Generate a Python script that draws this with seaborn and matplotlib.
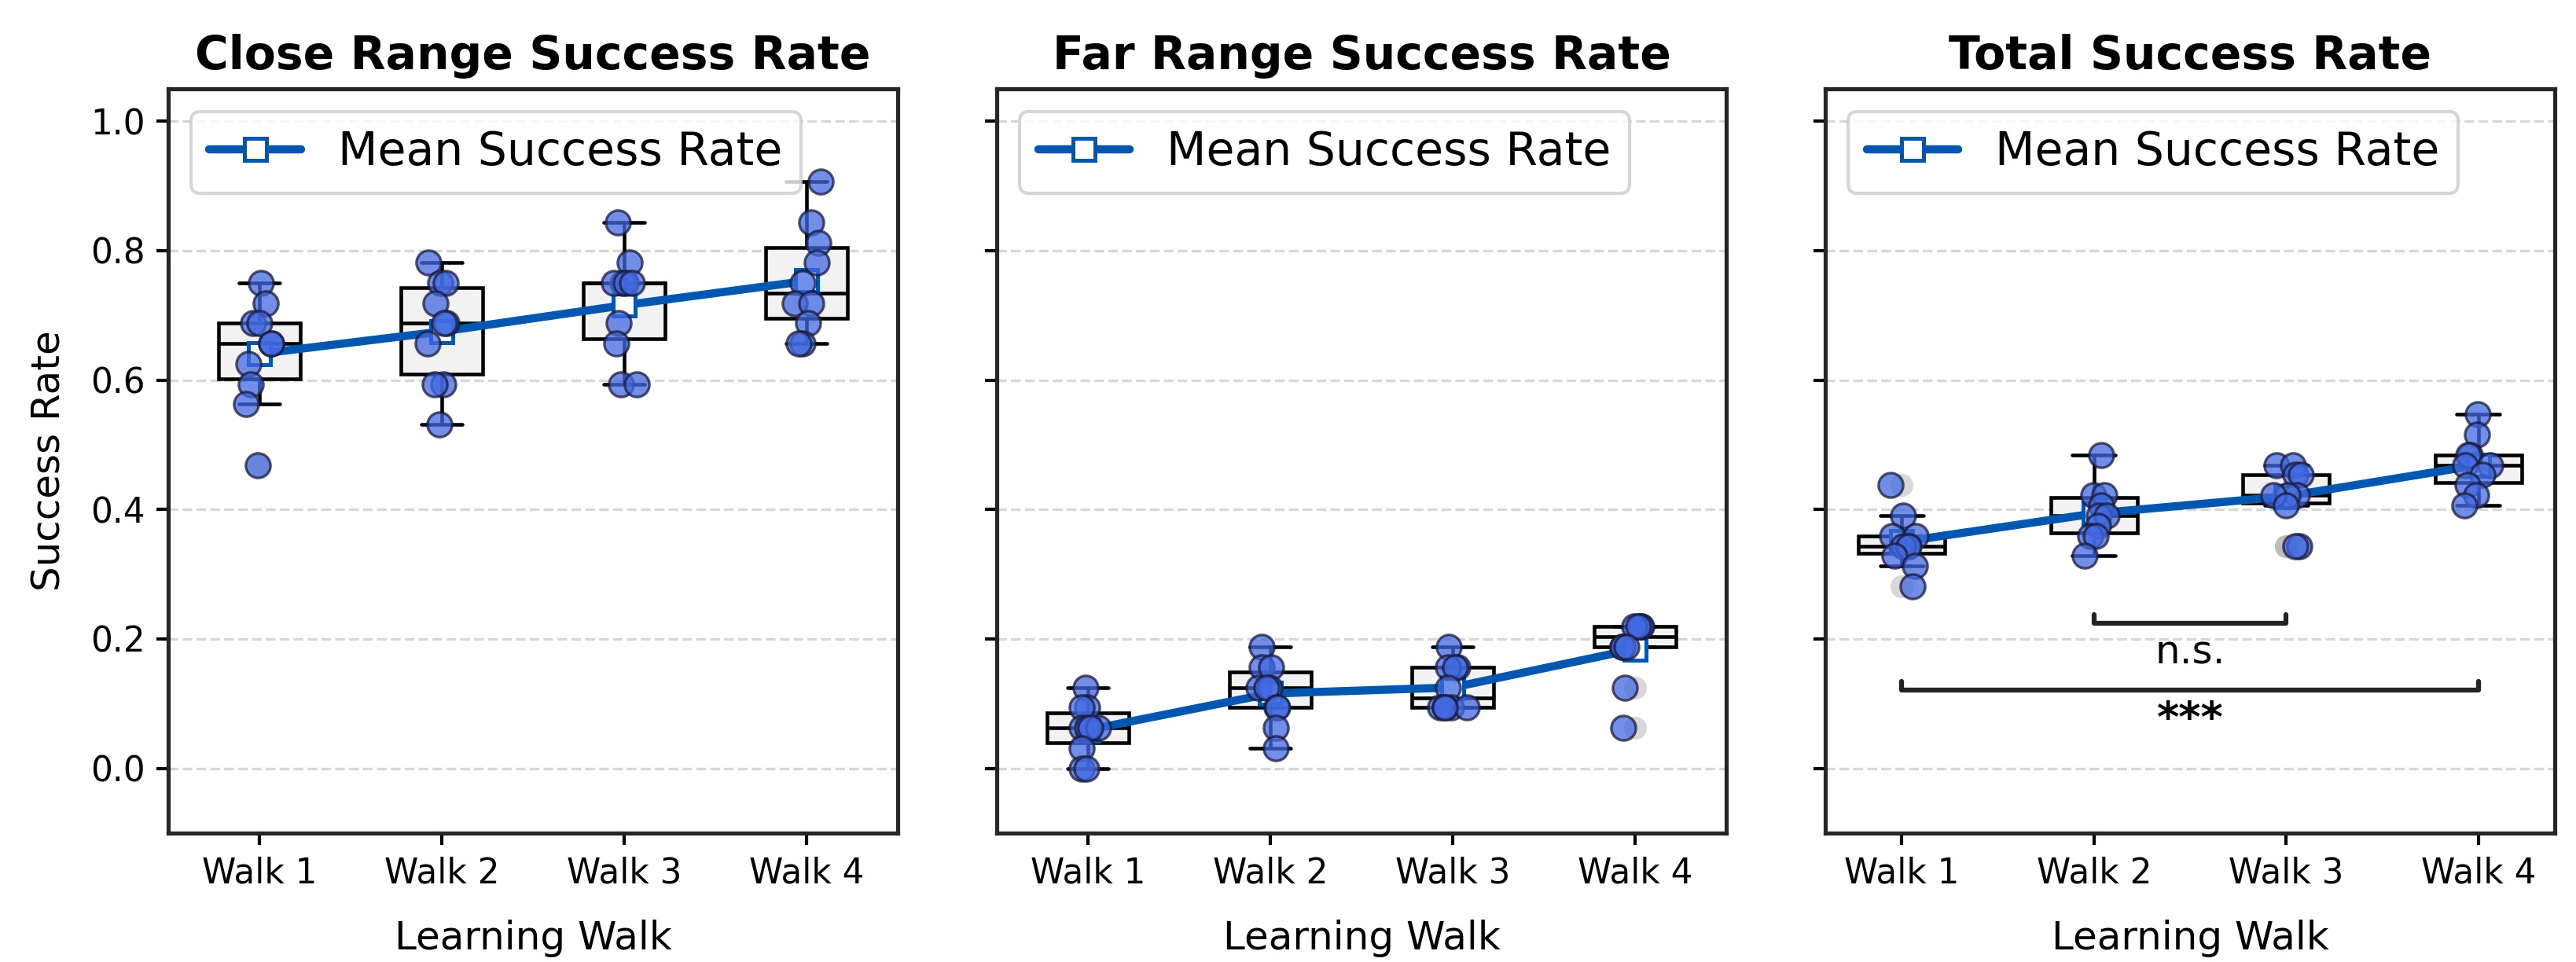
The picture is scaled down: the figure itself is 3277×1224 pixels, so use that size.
import numpy as np
import pandas as pd
import matplotlib
matplotlib.use("Agg")
import matplotlib.pyplot as plt
import seaborn as sns

# categories
walks = ["Walk 1", "Walk 2", "Walk 3", "Walk 4"]
panel_titles = ["Close Range Success Rate", "Far Range Success Rate", "Total Success Rate"]

# close range success rate per participant
close_w1 = [0.75, 0.71875, 0.6875, 0.6875, 0.65625, 0.65625, 0.625, 0.59375, 0.5625, 0.46875]
close_w2 = [0.78125, 0.75, 0.75, 0.71875, 0.6875, 0.6875, 0.65625, 0.59375, 0.59375, 0.53125]
close_w3 = [0.84375, 0.78125, 0.75, 0.75, 0.75, 0.75, 0.6875, 0.65625, 0.59375, 0.59375]
close_w4 = [0.90625, 0.84375, 0.8125, 0.78125, 0.75, 0.71875, 0.71875, 0.6875, 0.65625, 0.65625]

# far range
far_w1 = [0.125, 0.09375, 0.09375, 0.0625, 0.0625, 0.0625, 0.0625, 0.03125, 0.0, 0.0]
far_w2 = [0.1875, 0.15625, 0.15625, 0.125, 0.125, 0.125, 0.09375, 0.09375, 0.0625, 0.03125]
far_w3 = [0.1875, 0.15625, 0.15625, 0.15625, 0.125, 0.09375, 0.09375, 0.09375, 0.09375, 0.09375]
far_w4 = [0.21875, 0.21875, 0.21875, 0.21875, 0.21875, 0.1875, 0.1875, 0.1875, 0.125, 0.0625]

# total
total_w1 = [0.4375, 0.390625, 0.359375, 0.359375, 0.34375, 0.34375, 0.34375, 0.328125, 0.3125, 0.28125]
total_w2 = [0.484375, 0.421875, 0.421875, 0.40625, 0.390625, 0.390625, 0.375, 0.359375, 0.359375, 0.328125]
total_w3 = [0.46875, 0.46875, 0.453125, 0.453125, 0.421875, 0.421875, 0.421875, 0.40625, 0.34375, 0.34375]
total_w4 = [0.546875, 0.515625, 0.484375, 0.484375, 0.46875, 0.46875, 0.453125, 0.4375, 0.421875, 0.40625]

# significance annotations on the total panel
sig_pairs = [("Walk 2", "Walk 3"), ("Walk 1", "Walk 4")]
sig_labels = ["n.s.", "***"]
sig_heights = [0.224, 0.121]
sig_text_top = [0.208, 0.106]


def long_frame(groups):
    rows = []
    for walk, vals in zip(walks, groups):
        for v in vals:
            rows.append({"Walk": walk, "Rate": v})
    return pd.DataFrame(rows)


frames = [
    long_frame([close_w1, close_w2, close_w3, close_w4]),
    long_frame([far_w1, far_w2, far_w3, far_w4]),
    long_frame([total_w1, total_w2, total_w3, total_w4]),
]

sns.set_theme(style="ticks")
plt.rcParams["font.family"] = ["DejaVu Sans"]
plt.rcParams["axes.edgecolor"] = "#262626"
plt.rcParams["axes.linewidth"] = 1.25
for key in ["text.color", "axes.labelcolor", "xtick.color", "ytick.color"]:
    plt.rcParams[key] = "black"

LINE_C = "#0057B0"
DOT_C = "royalblue"

fig, axes = plt.subplots(1, 3, figsize=(3277 / 300, 1224 / 300), dpi=300, sharey=True)
fig.subplots_adjust(left=0.0653, right=0.9918, bottom=0.134, top=0.9077, wspace=0.136)

np.random.seed(3)
for ax, df, title in zip(axes, frames, panel_titles):
    sns.boxplot(data=df, x="Walk", y="Rate", order=walks, ax=ax, width=0.45,
                color="#f2f2f2", linecolor="black", linewidth=1.1,
                flierprops=dict(marker="o", markerfacecolor="grey", markeredgecolor="none",
                                alpha=0.3, markersize=7))
    sns.pointplot(data=df, x="Walk", y="Rate", order=walks, ax=ax, estimator="mean",
                  errorbar=None, color=LINE_C, markers="s", linestyles="-",
                  linewidth=2.5, markersize=6.5, markerfacecolor="white",
                  markeredgewidth=1.2, zorder=3)
    mean_line = ax.lines[-1]
    sns.stripplot(data=df, x="Walk", y="Rate", order=walks, ax=ax, color=DOT_C,
                  alpha=0.75, size=7.5, jitter=0.08, edgecolor="#1a1a3a", linewidth=0.8,
                  zorder=4)

    ax.set_title(title, fontsize=14, fontweight="bold")
    ax.set_xlabel("Learning Walk", fontsize=12, labelpad=9)
    ax.set_ylabel("")
    ax.set_ylim(-0.1, 1.05)
    ax.set_yticks([0.0, 0.2, 0.4, 0.6, 0.8, 1.0])
    ax.tick_params(axis="both", labelsize=10.5, length=3.5, width=1)
    ax.yaxis.grid(True, linestyle="--", color="lightgrey", alpha=0.9, linewidth=0.8)
    ax.set_axisbelow(True)
    ax.legend([mean_line], ["Mean Success Rate"], loc="upper left", fontsize=14)

axes[0].set_ylabel("Success Rate", fontsize=12, labelpad=7)

# brackets on total panel
ax = axes[2]
for (a, b), lab, h, ty in zip(sig_pairs, sig_labels, sig_heights, sig_text_top):
    x1, x2 = walks.index(a), walks.index(b)
    ax.plot([x1, x1, x2, x2], [h + 0.013, h, h, h + 0.013], color="#222222", lw=1.5)
    if lab == "***":
        ax.text((x1 + x2) / 2, ty, lab, ha="center", va="top", fontsize=13, fontweight="bold")
    else:
        ax.text((x1 + x2) / 2, ty, lab, ha="center", va="top", fontsize=12)

plt.savefig("out.png", dpi=300)
